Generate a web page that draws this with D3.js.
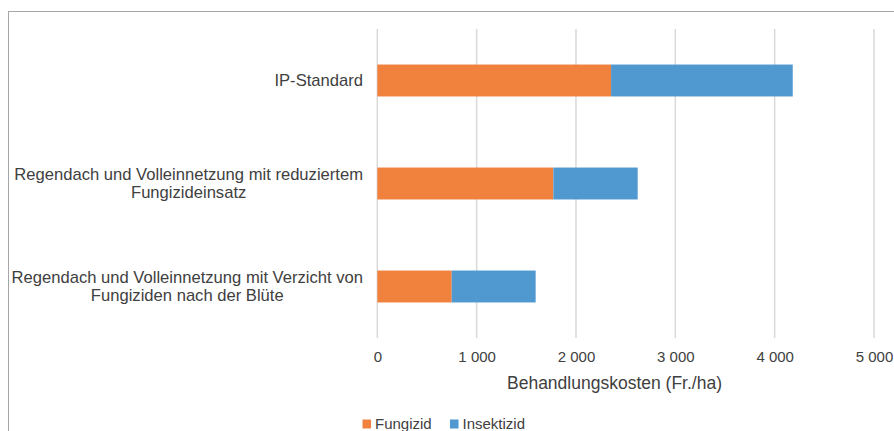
<!DOCTYPE html>
<html><head><meta charset="utf-8">
<script src="https://cdn.jsdelivr.net/npm/d3@7"></script>
<style>
html,body{margin:0;padding:0;background:#fff;overflow:hidden;}
text{font-family:"Liberation Sans",Arial,sans-serif;fill:#404040;}
</style></head>
<body>
<svg id="c" width="894" height="431"></svg>
<script>
const categories = [
  ["IP-Standard"],
  ["Regendach und Volleinnetzung mit reduziertem", "Fungizideinsatz"],
  ["Regendach und Volleinnetzung mit Verzicht von", "Fungiziden nach der Blüte"]
];
const seriesNames = ["Fungizid", "Insektizid"];
const fungizid = [2353, 1772, 749];
const insektizid = [1829, 849, 845];
const tickValues = [0, 1000, 2000, 3000, 4000, 5000];
const tickLabels = ["0", "1 000", "2 000", "3 000", "4 000", "5 000"];
const axisTitle = "Behandlungskosten (Fr./ha)";
const colors = ["#F0823E", "#5098D0"];

const svg = d3.select("#c");
// chart border
svg.append("rect").attr("x", 8.5).attr("y", 11.5).attr("width", 1000).attr("height", 1000)
  .attr("fill", "none").attr("stroke", "#a6a6a6").attr("stroke-width", 1);

const x = d3.scaleLinear().domain([0, 5000]).range([377.3, 874]);
const y = d3.scaleBand().domain(d3.range(categories.length)).range([29, 338]).paddingInner(0.69).paddingOuter(0.345);

// gridlines
svg.append("g").selectAll("line").data(tickValues).join("line")
  .attr("x1", d => x(d)).attr("x2", d => x(d)).attr("y1", 29).attr("y2", 338)
  .attr("stroke", "#d9d9d9").attr("stroke-width", 1.5);

const rows = categories.map((c, i) => ({i, Fungizid: fungizid[i], Insektizid: insektizid[i]}));
const stacked = d3.stack().keys(seriesNames)(rows);
svg.append("g").selectAll("g").data(stacked).join("g").attr("fill", (d, k) => colors[k])
  .selectAll("rect").data(d => d).join("rect")
  .attr("x", d => x(d[0])).attr("width", d => x(d[1]) - x(d[0]))
  .attr("y", d => y(d.data.i)).attr("height", y.bandwidth());

// category labels (multi-line blocks, centred lines, block right-aligned)
const lab = svg.append("g");
categories.forEach((lines, i) => {
  const cy = y(i) + y.bandwidth() / 2;
  const lh = 18;
  const texts = lines.map((ln, j) => lab.append("text").attr("font-size", 16.6).attr("text-anchor", "middle")
    .attr("x", 0).attr("y", cy + (j - (lines.length - 1) / 2) * lh).attr("dy", "0.35em").text(ln));
  const w = d3.max(texts, t => t.node().getComputedTextLength());
  texts.forEach(t => t.attr("x", 363 - w / 2));
});

// x axis tick labels
const axis = d3.axisBottom(x).tickValues(tickValues).tickFormat((d, i) => tickLabels[i]).tickSize(0).tickPadding(0);
const ag = svg.append("g").attr("transform", "translate(0,351)").call(axis);
ag.select(".domain").remove();
ag.selectAll("text").attr("font-size", 15).attr("fill", "#404040").attr("font-family", "Liberation Sans, Arial, sans-serif");

svg.append("text").attr("x", 614.5).attr("y", 383).attr("dy", "0.35em").attr("text-anchor", "middle")
  .attr("font-size", 17.5).text(axisTitle);

// legend
const legX = [362.5, 450];
seriesNames.forEach((n, k) => {
  svg.append("rect").attr("x", legX[k]).attr("y", 419.5).attr("width", 8.5).attr("height", 9).attr("fill", colors[k]);
  svg.append("text").attr("x", legX[k] + 12.5).attr("y", 429).attr("font-size", 15).text(n);
});
</script>
</body></html>
